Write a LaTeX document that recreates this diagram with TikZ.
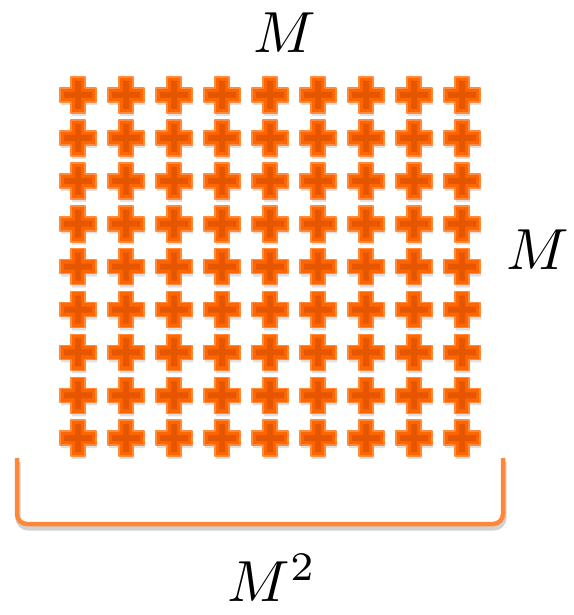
\documentclass[tikz,border=0pt]{standalone}
\usetikzlibrary{calc}
\definecolor{plusedge}{HTML}{FF8A3A}
\definecolor{plusfill}{HTML}{FF6600}
\definecolor{pluscore}{HTML}{E45600}
\definecolor{bracketcol}{HTML}{FF8838}
\tikzset{
  plusmark/.pic={
    % soft shadow, then the cross itself
    \fill[black,opacity=0.12] (-17,-6) -- (-6,-6) -- (-6,-17) -- (8,-17) -- (8,-6) -- (19,-6)
      -- (19,10) -- (8,10) -- (8,21) -- (-6,21) -- (-6,10) -- (-17,10) -- cycle;
    \draw[plusedge,fill=plusfill,line width=1.6pt,line join=round]
      (-18,-7) -- (-7,-7) -- (-7,-18) -- (7,-18) -- (7,-7) -- (18,-7)
      -- (18,7) -- (7,7) -- (7,18) -- (-7,18) -- (-7,7) -- (-18,7) -- cycle;
    \fill[pluscore] (-14,-3) -- (-3,-3) -- (-3,-14) -- (3,-14) -- (3,-3) -- (14,-3)
      -- (14,3) -- (3,3) -- (3,14) -- (-3,14) -- (-3,3) -- (-14,3) -- cycle;
  },
  dimlabel/.style={scale=5.8, inner sep=0pt}
}
\begin{document}
\begin{tikzpicture}[x=1pt,y=-1pt]
  \useasboundingbox (0,0) rectangle (573,615);
  % grid of M x M crosses
  \foreach \i in {0,...,8}
    \foreach \j in {0,...,8}
      \pic at ({78+48*\i},{95+42.9*\j}) {plusmark};
  % bracket under the grid
  \coordinate (bl) at (17,458);
  \coordinate (br) at (503,458);
  \coordinate (bm) at ($(bl)!0.5!(br)+(0,66)$);
  \draw[black!18,line width=5pt,rounded corners=10pt]
    ($(bl)+(1,4)$) |- ($(bm)+(1,4)$) -| ($(br)+(1,4)$);
  \draw[bracketcol,line width=4.5pt,rounded corners=10pt]
    (bl) |- (bm) -| (br);
  % labels
  \node[dimlabel] (top) at (285,33) {$M$};
  \node[dimlabel] (side) at (538,250) {$M$};
  \node[dimlabel] (below) at (272,578) {$M^2$};
\end{tikzpicture}
\end{document}
